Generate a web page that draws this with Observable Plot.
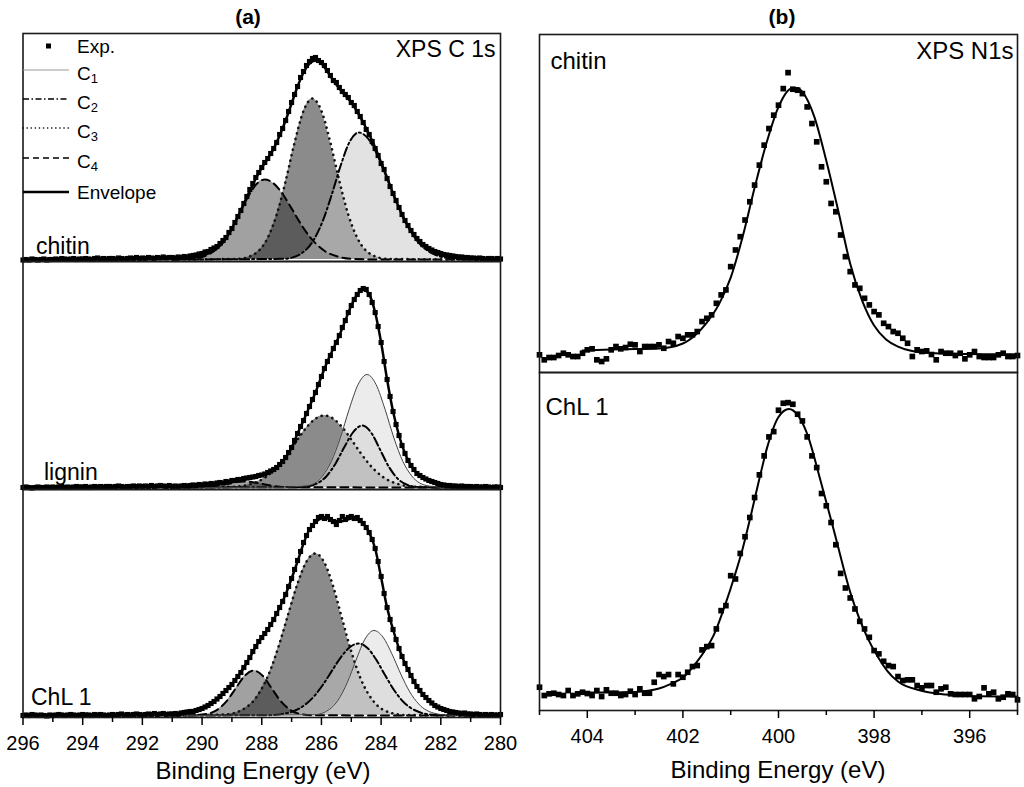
<!DOCTYPE html>
<html>
<head>
<meta charset="utf-8">
<script src="https://cdn.jsdelivr.net/npm/d3@7"></script>
<script src="https://cdn.jsdelivr.net/npm/@observablehq/plot@0.6"></script>
<style>
  body { margin: 0; background: #fff; font-family: "Liberation Sans", Arial, Helvetica, sans-serif; color: #000; }
  #wrap { position: relative; width: 1024px; height: 787px; overflow: hidden; background: #fff; }
  .abs { position: absolute; white-space: nowrap; line-height: 1; }
  .ttl { font-weight: bold; font-size: 21px; transform: translate(-50%, -50%); }
  .xl { font-size: 24px; transform: translate(-50%, -50%); }
  .lg { font-size: 19px; transform: translate(0, -50%); }
  .lg sub { font-size: 13px; vertical-align: -0.3em; line-height: 0; }
  svg { display: block; }
</style>
</head>
<body>
<div id="wrap">
  <div id="left" class="abs" style="left:0;top:0"></div>
  <div id="right" class="abs" style="left:520px;top:0"></div>
</div>
<script>
// ---------------- DATA ----------------
// Panel (a): XPS C 1s, binding energy grid for experimental points
const c1sStart = 296, c1sStep = 0.1;
const c1sSamples = ["chitin", "lignin", "ChL 1"];
const c1sMajorTicks = [296, 294, 292, 290, 288, 286, 284, 282, 280];
const c1sMinorTicks = [295, 293, 291, 289, 287, 285, 283, 281];

// experimental intensities (a.u.), 296.0 -> 280.0 eV
const chitinC1sExp = [
  -0.5,0,-0.5,0.5,0,-0.5,0,0.5,-0.5,0, 0,0.5,0,1,0.5,0,0.5,1,0,0.5,
  0.5,1,0.5,0,1,1.5,0.5,1,0.5,1, 1,0.5,1.5,1,0.5,1,1.5,1,2,1,
  1.5,1,2,1.5,1,2,1.5,2.5,1.5,2,
  2,1.5,2.5,2,3,2.5,3.5,4,4.5,5.5,
  6,7.5,8,10,11.5,13,16,19,22,27,
  31,37,43,49,56,63,70,76,82,87,
  92,97,101,106,111,117,125,131,139,148,
  157,165,173,182,188,194,198,201,202,199,
  197,194,189,184,179,177,172,168,165,162,
  157,154,148,143,137,130,125,118,111,104,
  96,90,81,73,66,59,52,45,39,34,
  29,25,21,18,15,13,11,9.5,8,7,
  6,5,4.5,4,3.5,3,2.5,2.5,2,2,
  1.5,
  1.5,1,1.5,1,0.5,1,1,0.5,1,0.5
];
const ligninC1sExp = [
  0,0.5,0,-0.5,0,0.5,0,0,0.5,0, 0.5,0,0.5,1,0,0.5,0,0.5,1,0.5,
  0.5,1,0,0.5,1,0.5,1,0.5,1,1, 0.5,1,1.5,1,0.5,1,1,1.5,1,1.5,
  1,1.5,1,2,1,1.5,2,1.5,1,2,
  1,1.5,1,1.5,2,1.5,2,2.5,2,3,
  2.5,3.5,3,4,3.5,4.5,5,4.5,6,5.5,
  7,7,8,8,9,9.5,10,10.5,11,12,
  12.5,13.5,15,16.5,18,20,23,26,30,35,
  40,47,54,61,67,74,81,88,95,103,
  111,119,126,132,139,145,152,160,167,175,
  182,188,193,197,199,198,193,185,175,161,
  145,126,108,91,76,63,52,42,34,27,
  22,18,14,12,10,8.5,7,6,5,4,
  3,2.5,2,2,1.5,1.5,1,1.5,1,1,
  1,
  0.5,1,0.5,0.5,1,0.5,0,0.5,0.5,0
];
const chl1C1sExp = [
  0,0.5,0,1,0.5,0,0.5,0,-0.5,0.5, 0,0.5,1,0.5,0,0.5,1,0.5,0,0.5,
  1,0.5,0.5,0,1,0.5,1,0.5,0,0.5, 1,0.5,1,1.5,0.5,1,0.5,1,1.5,1,
  0.5,1,1.5,1,2,1,1.5,2,1,1.5,
  1.5,2,1.5,2.5,3,3.5,4,4,5,6,
  7,8.5,10,12,14,16.5,19,22,25,28,
  31,35,39,43,48,53,58,64,69,74,
  78,82,86,91,96,102,108,114,121,129,
  137,146,155,164,173,180,186,190,194,198,
  199,197,199,196,194,191,195,199,196,198,
  199,197,198,195,192,188,183,176,167,154,
  139,122,108,96,86,76,67,59,52,46,
  40,34,29,25,21,18,15,12.5,10,8.5,
  7,6,5,4,3.5,3,2.5,2,2.5,1.5,
  1.5,
  1,1.5,1,0.5,1,0.5,1,0.5,0.5,1
];

// fitted components [binding energy, intensity]
const chitinC2 = [[291,0],[287.25,0.7],[286.75,4.7],[286.25,20],[285.95,38.9],[285.65,65.3],[285.35,94.5],[285.05,118],[284.75,127],[284.45,121.4],[284.15,106],[283.85,84.7],[283.55,61.8],[283.25,41.3],[282.75,17.1],[282.25,5.6],[281.75,1.4],[281.25,0.3],[281,0]];
const chitinC3 = [[291,0],[288.8,0.6],[288.3,4.5],[287.8,21.7],[287.5,44.8],[287.2,78.4],[286.9,116.9],[286.6,148.6],[286.3,161],[286.0,148.6],[285.7,116.9],[285.4,78.4],[285.1,44.8],[284.8,21.7],[284.3,4.5],[283.8,0.6],[281,0]];
const chitinC4 = [[291,0],[290.4,0.6],[289.9,3.5],[289.4,13.8],[289.1,26],[288.8,42.5],[288.5,60.4],[288.2,74.6],[287.9,80],[287.6,76],[287.3,65.5],[287.0,51],[286.7,36],[286.4,23],[285.9,8.7],[285.4,2.5],[284.9,0.5],[284.0,0],[281,0]];
const chitinEnv = [[296,0.3],[293,0.5],[291,0.8],[290.8,1],[290.6,1.3],[290.4,1.8],[290.2,2.6],[290,4],[289.8,6],[289.6,9],[289.4,14],[289.2,21],[289,31],[288.8,43],[288.6,56],[288.4,69],[288.2,81],[288,92],[287.8,101],[287.6,111],[287.4,124],[287.2,139],[287,156],[286.8,173],[286.6,187],[286.4,196],[286.2,199],[286,196],[285.8,188],[285.6,179],[285.4,171],[285.2,164],[285,157],[284.8,148],[284.6,137],[284.4,125],[284.2,112],[284,97],[283.8,82],[283.6,66],[283.4,52],[283.2,39],[283,29],[282.8,21],[282.6,15],[282.4,11],[282.2,8],[282,6],[281.8,4.5],[281.6,3.5],[281.4,2.5],[281.2,2],[281,1.5],[280.5,1],[280,0.8]];

const ligninC1 = [[291,0],[287.47,0.2],[286.47,1.9],[285.97,11.4],[285.67,26],[285.37,49.4],[285.07,78.3],[284.77,103],[284.47,113],[284.17,103],[283.87,78.3],[283.57,49.4],[283.27,26],[282.97,11.4],[282.47,1.9],[281.97,0.2],[281,0]];
const ligninC2 = [[291,0],[286.63,0.5],[286.13,4.3],[285.83,11.3],[285.53,23.8],[285.23,40.5],[284.93,55.7],[284.63,62],[284.33,54.7],[284.03,37.6],[283.73,20.2],[283.43,8.4],[283.13,2.7],[282.63,0.2],[281,0]];
const ligninC3 = [[291,0],[288.9,0.8],[288.4,3.2],[287.9,9.7],[287.4,23.4],[287.1,35.1],[286.8,48],[286.5,60.1],[286.2,68.8],[285.9,72],[285.6,68.8],[285.3,60.1],[285,48],[284.7,35.1],[284.4,23.4],[283.9,9.7],[283.4,3.2],[282.9,0.8],[281,0]];
const ligninC4 = [[291,0],[290.1,0.3],[289.8,0.8],[289.5,2],[289.2,3.6],[288.9,5.3],[288.6,6],[288.3,5.3],[288,3.6],[287.7,2],[287.4,0.8],[287.1,0.3],[281,0]];
const ligninEnv = [[296,0.5],[293,0.8],[291,1],[290.6,1.5],[290.2,2.2],[289.8,3],[289.4,4.5],[289,6.5],[288.6,8.5],[288.2,10.5],[288,12],[287.8,14.5],[287.6,18],[287.4,23],[287.2,30],[287,40],[286.8,54],[286.6,67],[286.4,81],[286.2,95],[286,111],[285.8,126],[285.6,139],[285.4,152],[285.2,167],[285,182],[284.8,193],[284.6,198],[284.4,193],[284.2,175],[284,145],[283.8,108],[283.6,76],[283.4,52],[283.2,34],[283,22],[282.8,14],[282.6,10],[282.4,7],[282.2,4.5],[282,3],[281.8,2],[281.6,1.5],[281.2,1],[280,0.5]];

const chl1C1 = [[291,0],[286.24,0.75],[285.74,6],[285.44,15.5],[285.14,32.6],[284.84,55.5],[284.54,76.4],[284.24,85],[283.94,78.5],[283.64,61.7],[283.34,41.4],[283.04,23.6],[282.74,11.5],[282.24,2.4],[281.74,0.3],[281,0]];
const chl1C2 = [[291,0],[287.75,0.35],[287.25,1.8],[286.75,6.8],[286.25,19.1],[285.95,30.7],[285.65,44.6],[285.35,58.2],[285.05,68.3],[284.75,72],[284.45,67.3],[284.15,55.1],[283.85,39.4],[283.55,24.7],[283.25,13.5],[282.75,3.7],[282.25,0.7],[281,0]];
const chl1C3 = [[291,0],[289.2,1.1],[288.7,5],[288.2,17.5],[287.7,46.2],[287.4,72.5],[287.1,102.7],[286.8,131.9],[286.5,154],[286.2,162],[285.9,152.9],[285.6,128.4],[285.3,96],[285,64],[284.7,37.9],[284.2,12.3],[283.7,2.9],[283.2,0.5],[281,0]];
const chl1C4 = [[291,0],[290.27,0.2],[289.77,2],[289.47,6.1],[289.17,14.6],[288.87,27.3],[288.57,39.7],[288.27,45],[287.97,39.7],[287.67,27.3],[287.37,14.6],[287.07,6.1],[286.77,2],[286.27,0.2],[281,0]];
const chl1Env = [[296,0.5],[293,0.8],[291,1.5],[290.6,2.5],[290.2,5],[290,7],[289.8,10],[289.6,14],[289.4,19],[289.2,25],[289,31],[288.8,39],[288.6,48],[288.4,58],[288.2,69],[288,78],[287.8,86],[287.6,96],[287.4,108],[287.2,121],[287,137],[286.8,154],[286.6,172],[286.4,186],[286.2,193],[286,197],[285.8,197],[285.6,195],[285.4,194],[285.2,195],[285,197],[284.8,196],[284.6,192],[284.4,183],[284.2,167],[284,138],[283.8,108],[283.6,86],[283.4,67],[283.2,52],[283,40],[282.8,29],[282.6,21],[282.4,15],[282.2,10],[282,7],[281.8,5],[281.6,3.5],[281.4,2.5],[281,1.5],[280,0.5]];

// Panel (b): XPS N1s
const n1sStart = 405, n1sStep = 0.1;
const n1sSamples = ["chitin", "ChL 1"];
const n1sMajorTicks = [404, 402, 400, 398, 396];
const n1sMinorTicks = [405, 403, 401, 399, 397, 395];
const chitinN1sExp = [
  17.7,12.7,15,15,17,19.3,17.7,16,16,19.3,
  22.7,23.7,12.7,11,13.7,22.7,26,23.7,25,28.3,
  27.7,21,26,26,26,27.7,24.3,31,29.3,36,
  34.3,37.7,37.7,41,51,54.3,57.7,69.3,77.7,82.7,
  106,122.7,136,152.7,171,187.7,207.7,227.7,244.3,257.7,
  267.7,284.3,300.3,283.7,282.7,279.3,266,249.3,231,206,
  191,169.3,161,137.7,116,101,87.7,84.3,74.3,67.7,
  61,57.7,49.3,46,41,39.3,34.3,29.3,16,22.7,
  21,21.7,18,12.7,21,19.3,19.3,17,19.3,13.7,
  17.7,21,16,15,15,15,17.7,19.3,16,16,17
];
const chl1N1sExp = [
  23.3,15,16.7,17.3,16,15,20,15,16.7,18.3,
  17,15,20,14,20.7,17.3,17.3,15,16,19.3,
  16,21.7,17.3,17.3,28.3,36,34,36,26.7,36,
  33.3,38.3,44,45,60.7,64,65,81.7,100,105,
  135,131.7,157.3,174,193.3,213.3,236,255,274,279.3,
  300.7,307.7,308.3,306.7,296.7,290,274,255,243.3,217.3,
  205,188.3,166,137.3,122.7,112.7,101.7,89.3,81.7,73.3,
  60,56.7,49.3,45,44,34,30,30.7,30.7,25,
  22.7,25,25,18.3,21.7,23.3,16.7,16,16,16,
  16,11.7,14,22.7,16.7,18.3,11.7,13.3,16.7,16,10.7
];
const chitinN1sFit = [[404.1,22],[403.5,23],[403,23.5],[402.5,24],[402,29],[401.75,37],[401.5,50],[401.25,68],[401,95],[400.75,136],[400.5,185],[400.25,230],[400,266],[399.75,284],[399.6,285],[399.5,281],[399.25,256],[399,212],[398.75,162],[398.5,109],[398.25,72],[398,47],[397.75,33],[397.5,26],[397.25,22],[397,20],[396.5,19],[396,18.5],[395.5,18.3],[395,18]];
const chl1N1sFit = [[404.1,18],[403.5,18],[403,18.5],[402.5,22],[402.25,26.7],[402,33],[401.75,46],[401.5,63],[401.35,76],[401.1,108],[400.93,133],[400.75,162],[400.59,193],[400.4,232],[400.24,263],[400,294],[399.78,302],[399.6,296],[399.4,277],[399.12,230],[398.84,180],[398.49,117],[398.14,73],[397.9,52],[397.73,40],[397.5,29],[397.03,20],[396.5,16],[396,14.5],[395,14]];

// ---------------- BUILD ROWS ----------------
const font = '"Liberation Sans", Arial, Helvetica, sans-serif';
const pairsToRows = (sample, comp, pairs) =>
  pairs.map(([E, I]) => ({sample, comp, E, I})).sort((a, b) => b.E - a.E);
const expToRows = (sample, values, start, step) =>
  values.map((I, i) => ({sample, E: +(start - i * step).toFixed(2), I}));

const c1sComp = [
  ...pairsToRows("chitin", "C2", chitinC2), ...pairsToRows("chitin", "C3", chitinC3), ...pairsToRows("chitin", "C4", chitinC4),
  ...pairsToRows("lignin", "C1", ligninC1), ...pairsToRows("lignin", "C2", ligninC2), ...pairsToRows("lignin", "C3", ligninC3), ...pairsToRows("lignin", "C4", ligninC4),
  ...pairsToRows("ChL 1", "C1", chl1C1), ...pairsToRows("ChL 1", "C2", chl1C2), ...pairsToRows("ChL 1", "C3", chl1C3), ...pairsToRows("ChL 1", "C4", chl1C4)
];
const c1sEnv = [
  ...pairsToRows("chitin", "Envelope", chitinEnv), ...pairsToRows("lignin", "Envelope", ligninEnv), ...pairsToRows("ChL 1", "Envelope", chl1Env)
];
const c1sExp = [
  ...expToRows("chitin", chitinC1sExp, c1sStart, c1sStep),
  ...expToRows("lignin", ligninC1sExp, c1sStart, c1sStep),
  ...expToRows("ChL 1", chl1C1sExp, c1sStart, c1sStep)
];
const n1sFit = [...pairsToRows("chitin", "fit", chitinN1sFit), ...pairsToRows("ChL 1", "fit", chl1N1sFit)];
const n1sExp = [...expToRows("chitin", chitinN1sExp, n1sStart, n1sStep), ...expToRows("ChL 1", chl1N1sExp, n1sStart, n1sStep)];

// ---------------- STYLES ----------------
const compStyle = {
  C4: {fill: "#000000", fillOpacity: 0.37, line: {stroke: "#000", strokeWidth: 2, strokeDasharray: "8,5"}},
  C3: {fill: "#171717", fillOpacity: 0.5, line: {stroke: "#111", strokeWidth: 2.6, strokeDasharray: "0.1,5.5", strokeLinecap: "round"}},
  C2: {fill: "#c5c5c5", fillOpacity: 0.5, line: {stroke: "#000", strokeWidth: 2, strokeDasharray: "9,3,2,3"}},
  C1: {fill: "#d9d9d9", fillOpacity: 0.5, line: {stroke: "#444", strokeWidth: 1}}
};
const drawOrder = ["C4", "C3", "C2", "C1"];

const labelMark = (sample, text, anchor, dx, dy, ta, size) =>
  Plot.text([{sample, text}], {fy: "sample", text: "text", frameAnchor: anchor, dx, dy,
    textAnchor: ta, lineAnchor: "middle", fontSize: size, fill: "#000"});

// ---------------- PANEL (a) ----------------
const leftMarks = [];
for (const c of drawOrder) {
  const rows = c1sComp.filter(d => d.comp === c);
  leftMarks.push(Plot.areaY(rows, {x: "E", y: "I", fy: "sample", fill: compStyle[c].fill, fillOpacity: compStyle[c].fillOpacity, curve: "monotone-x"}));
}
for (const c of drawOrder) {
  const rows = c1sComp.filter(d => d.comp === c);
  leftMarks.push(Plot.lineY(rows, {x: "E", y: "I", fy: "sample", curve: "monotone-x", ...compStyle[c].line}));
}
leftMarks.push(
  Plot.dot(c1sExp, {x: "E", y: "I", fy: "sample", symbol: "square", r: 2.9, fill: "#000", stroke: "none"}),
  Plot.lineY(c1sEnv, {x: "E", y: "I", fy: "sample", stroke: "#000", strokeWidth: 2.5, curve: "monotone-x"}),
  Plot.frame({stroke: "#1a1a1a", strokeWidth: 1.6}),
  labelMark("chitin", "chitin", "bottom-left", 13, -15, "start", 23),
  labelMark("chitin", "XPS C 1s", "top-right", -5, 16, "end", 23),
  labelMark("lignin", "lignin", "bottom-left", 21, -17, "start", 23),
  labelMark("ChL 1", "ChL 1", "bottom-left", 8, -20, "start", 23),
  Plot.axisX({ticks: c1sMajorTicks, tickSize: 8, tickPadding: 10, strokeWidth: 1.5, fontSize: 20, label: null, tickFormat: d => d}),
  Plot.axisX({ticks: c1sMinorTicks, tickSize: 5, strokeWidth: 1.5, label: null, tickFormat: () => ""})
);

const left = Plot.plot({
  width: 524, height: 787,
  marginLeft: 22.5, marginRight: 24, marginTop: 33, marginBottom: 70,
  x: {domain: [296, 280]},
  y: {domain: [-2, 226], axis: null},
  fy: {domain: c1sSamples, padding: 0, axis: null},
  style: {fontFamily: font, fontSize: "20px", color: "#000", background: "transparent", overflow: "visible"},
  marks: leftMarks
});
document.getElementById("left").appendChild(left);

// ---------------- PANEL (b) ----------------
const right = Plot.plot({
  width: 504, height: 787,
  marginLeft: 19, marginRight: 7, marginTop: 33, marginBottom: 77,
  x: {domain: [405, 395]},
  y: {domain: [0, 338.5], axis: null},
  fy: {domain: n1sSamples, padding: 0, axis: null},
  style: {fontFamily: font, fontSize: "20px", color: "#000", background: "transparent", overflow: "visible"},
  marks: [
    Plot.lineY(n1sFit, {x: "E", y: "I", fy: "sample", stroke: "#000", strokeWidth: 2, curve: "monotone-x"}),
    Plot.dot(n1sExp, {x: "E", y: "I", fy: "sample", symbol: "square", r: 3.2, fill: "#000", stroke: "none"}),
    Plot.frame({stroke: "#1a1a1a", strokeWidth: 1.6}),
    labelMark("chitin", "chitin", "top-left", 11, 27, "start", 24),
    labelMark("chitin", "XPS N1s", "top-right", -4, 17, "end", 24),
    labelMark("ChL 1", "ChL 1", "top-left", 6, 35, "start", 24),
    Plot.axisX({ticks: n1sMajorTicks, tickSize: 8, tickPadding: 10, strokeWidth: 1.5, fontSize: 20, label: null, tickFormat: d => d}),
    Plot.axisX({ticks: n1sMinorTicks, tickSize: 5, strokeWidth: 1.5, label: null, tickFormat: () => ""})
  ]
});
document.getElementById("right").appendChild(right);

// ---------------- TITLES, AXIS LABELS, LEGEND ----------------
const wrap = document.getElementById("wrap");
function addDiv(cls, html, x, y) {
  const d = document.createElement("div");
  d.className = "abs " + cls;
  d.style.left = x + "px"; d.style.top = y + "px";
  d.innerHTML = html;
  wrap.appendChild(d);
  return d;
}
addDiv("ttl", "(a)", 248, 16);
addDiv("ttl", "(b)", 782, 16);
addDiv("xl", "Binding Energy (eV)", 263, 771);
addDiv("xl", "Binding Energy (eV)", 778, 770);

const legendLabels = ["Exp.", "C<sub>1</sub>", "C<sub>2</sub>", "C<sub>3</sub>", "C<sub>4</sub>", "Envelope"];
const legendKinds = ["exp", "C1", "C2", "C3", "C4", "env"];
const rowY = [46, 73, 102, 131, 161, 192];
const ns = "http://www.w3.org/2000/svg";
const sw = document.createElementNS(ns, "svg");
sw.setAttribute("width", 60); sw.setAttribute("height", 200);
sw.style.position = "absolute"; sw.style.left = "22px"; sw.style.top = "30px";
legendKinds.forEach((k, i) => {
  const y = rowY[i] - 30 - (i > 0 && i < 5 ? 3 : 0);
  if (k === "exp") {
    const r = document.createElementNS(ns, "rect");
    r.setAttribute("x", 24); r.setAttribute("y", y - 2.5); r.setAttribute("width", 5); r.setAttribute("height", 5);
    r.setAttribute("fill", "#000"); sw.appendChild(r);
  } else {
    const l = document.createElementNS(ns, "line");
    l.setAttribute("x1", 1); l.setAttribute("x2", 47); l.setAttribute("y1", y); l.setAttribute("y2", y);
    let st = {stroke: "#000", w: 1.5, dash: null, cap: "butt"};
    if (k === "C1") st = {stroke: "#999", w: 1, dash: null, cap: "butt"};
    if (k === "C2") st = {stroke: "#000", w: 1.5, dash: "6,2.5,1.5,2.5", cap: "butt"};
    if (k === "C3") st = {stroke: "#000", w: 1.6, dash: "0.1,4", cap: "round"};
    if (k === "C4") st = {stroke: "#000", w: 1.5, dash: "6,4", cap: "butt"};
    if (k === "env") st = {stroke: "#000", w: 2.5, dash: null, cap: "butt"};
    l.setAttribute("stroke", st.stroke); l.setAttribute("stroke-width", st.w);
    l.setAttribute("stroke-linecap", st.cap);
    if (st.dash) l.setAttribute("stroke-dasharray", st.dash);
    sw.appendChild(l);
  }
});
wrap.appendChild(sw);
legendLabels.forEach((t, i) => addDiv("lg", t, 77, rowY[i]));
</script>
</body>
</html>
